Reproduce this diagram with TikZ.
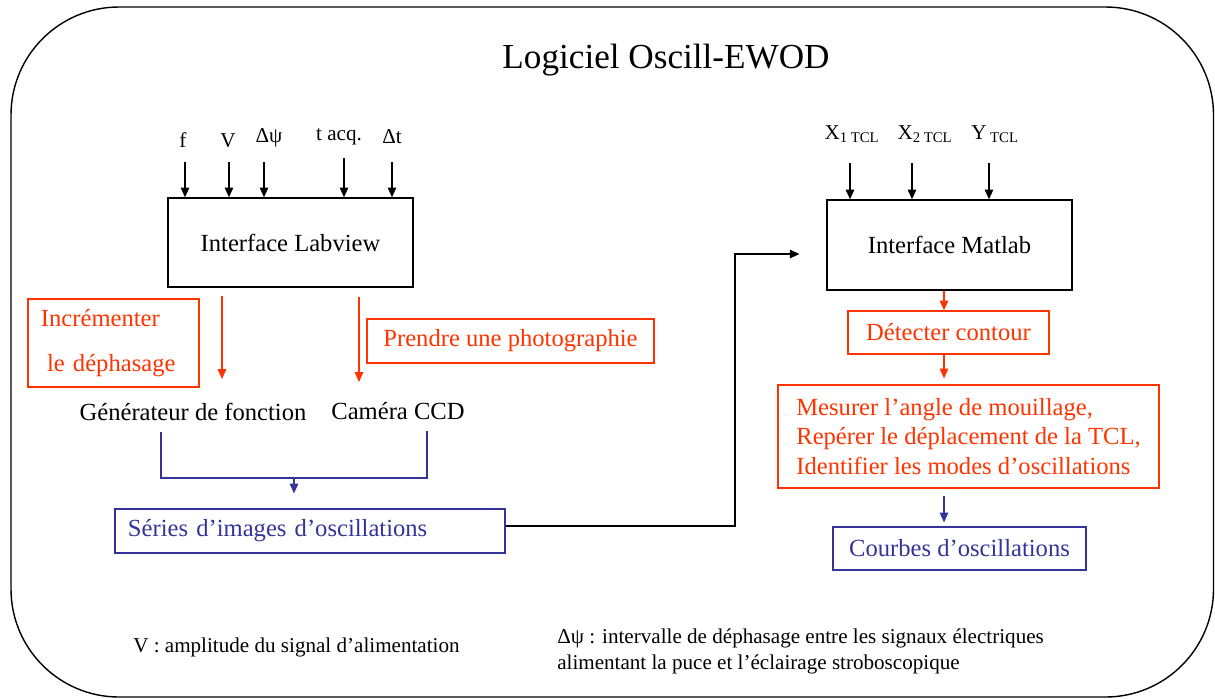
\documentclass[tikz,border=0pt]{standalone}
\usepackage{fontspec}
\setmainfont{Liberation Serif}
\usepackage{xcolor}
\usetikzlibrary{positioning,arrows.meta}
\definecolor{oscred}{RGB}{255,51,0}
\definecolor{oscblue}{RGB}{51,51,153}

\begin{document}
\begin{tikzpicture}[x=0.025cm, y=-0.025cm,
    txt/.style={inner sep=0pt, font=\fontsize{17.5}{21}\selectfont},
    blackbox/.style={txt, draw, line width=0.9pt},
    redbox/.style={txt, draw=oscred, text=oscred, line width=0.9pt},
    bluebox/.style={txt, draw=oscblue, text=oscblue, line width=0.9pt},
    inlabel/.style={anchor=base, inner sep=0pt, font=\fontsize{15}{18}\selectfont},
    note/.style={anchor=west, inner sep=0pt, align=left, font=\fontsize{15}{18.4}\selectfont},
    inarrow/.style={-{Triangle[length=7pt,width=6pt]}, line width=1.1pt},
    redarrow/.style={inarrow, oscred},
    bluearrow/.style={inarrow, oscblue},
    blueline/.style={line width=1.1pt, oscblue}]

    % Frame and title
    \useasboundingbox (0,0) rectangle (1215,698);
    \draw[line width=1pt, rounded corners=2.7cm] (11,7) rectangle (1213.5,697);
    \node[anchor=base, inner sep=0pt, font=\fontsize{25}{30}\selectfont] (title) at (666,68) {Logiciel Oscill-EWOD};

    % Labview part
    \node[blackbox, minimum width=6.125cm, minimum height=2.225cm] (labview) at (290.5,242.5) {Interface Labview};
    \node[inlabel] (inF) at (183,147) {f};
    \node[inlabel] (inV) at (228,147) {V};
    \node[inlabel] (inPsi) at (269,142) {Δψ};
    \node[inlabel] (inTacq) at (339,140) {t acq.};
    \node[inlabel] (inDt) at (392,143) {Δt};
    \coordinate (aF) at (185,162);
    \coordinate (aV) at (229,162);
    \coordinate (aPsi) at (264,162);
    \coordinate (aTacq) at (344,158);
    \coordinate (aDt) at (392,162);
    \draw[inarrow] (aF) -- (aF |- labview.north);
    \draw[inarrow] (aV) -- (aV |- labview.north);
    \draw[inarrow] (aPsi) -- (aPsi |- labview.north);
    \draw[inarrow] (aTacq) -- (aTacq |- labview.north);
    \draw[inarrow] (aDt) -- (aDt |- labview.north);

    \node[redbox, minimum width=4.275cm, minimum height=2.2cm, text width=3.625cm, align=left, font=\fontsize{17.5}{32}\selectfont] (incr) at (113.5,343) {Incrémenter\\\hspace*{4.3pt}le déphasage};
    \node[redbox, minimum width=7.175cm, minimum height=1.1cm] (photo) at (510.5,341) {Prendre une photographie};
    \node[txt] (gen) at (193,412) {Générateur de fonction};
    \node[txt] (cam) at (398,411) {Caméra CCD};
    \coordinate (genIn) at (222,379);
    \coordinate (camIn) at (359,382);
    \draw[redarrow, shorten <=5.7pt] (labview.south -| genIn) -- (genIn);
    \draw[redarrow, shorten <=7pt] (labview.south -| camIn) -- (camIn);

    \node[bluebox, minimum width=9.75cm, minimum height=1.1cm, text width=9.1cm, align=left] (series) at (310,531) {Séries d’images d’oscillations};
    \coordinate (genOut) at (161,432);
    \coordinate (camOut) at (427,431);
    \coordinate (join) at (294,478);
    \draw[blueline] (genOut) |- (join) -| (camOut);
    \draw[bluearrow, shorten >=10.6pt] (join) -- (join |- series.north);

    % Link to Matlab
    \node[blackbox, minimum width=6.125cm, minimum height=2.25cm] (matlab) at (949.5,245) {Interface Matlab};
    \coordinate (bend) at (735,254);
    \draw[inarrow, shorten >=19pt] ([yshift=3.5pt]series.east) -| (bend) -- (matlab.west |- bend);

    % Matlab part
    \node[inlabel] (inXa) at (852,139) {X\textsubscript{1 TCL}};
    \node[inlabel] (inXb) at (925,139) {X\textsubscript{2 TCL}};
    \node[inlabel] (inY) at (995,139) {Y\textsubscript{~TCL}};
    \coordinate (aXa) at (850,163);
    \coordinate (aXb) at (912,163);
    \coordinate (aY) at (989,163);
    \draw[inarrow] (aXa) -- (aXa |- matlab.north);
    \draw[inarrow] (aXb) -- (aXb |- matlab.north);
    \draw[inarrow] (aY) -- (aY |- matlab.north);

    \node[redbox, minimum width=5.025cm, minimum height=1.075cm] (detect) at (948.5,332.5) {Détecter contour};
    \node[redbox, minimum width=9.525cm, minimum height=2.575cm, align=left] (mesure) at (968.5,436.5) {Mesurer l’angle de mouillage,\\Repérer le déplacement de la TCL,\\Identifier les modes d’oscillations};
    \node[bluebox, minimum width=6.325cm, minimum height=1.075cm] (courbes) at (959.5,548.5) {Courbes d’oscillations};
    \coordinate (col) at (944,0);
    \draw[redarrow] (matlab.south -| col) -- (detect.north -| col);
    \draw[redarrow, shorten >=4.2pt] (detect.south -| col) -- (mesure.north -| col);
    \draw[bluearrow, shorten <=5pt, shorten >=2.8pt] (mesure.south -| col) -- (courbes.north -| col);

    % Notes
    \node[note] (noteV) at (133,647) {V : amplitude du signal d’alimentation};
    \node[note] (notePsi) at (557,651) {Δψ : intervalle de déphasage entre les signaux électriques\\alimentant la puce et l’éclairage stroboscopique};
\end{tikzpicture}
\end{document}
